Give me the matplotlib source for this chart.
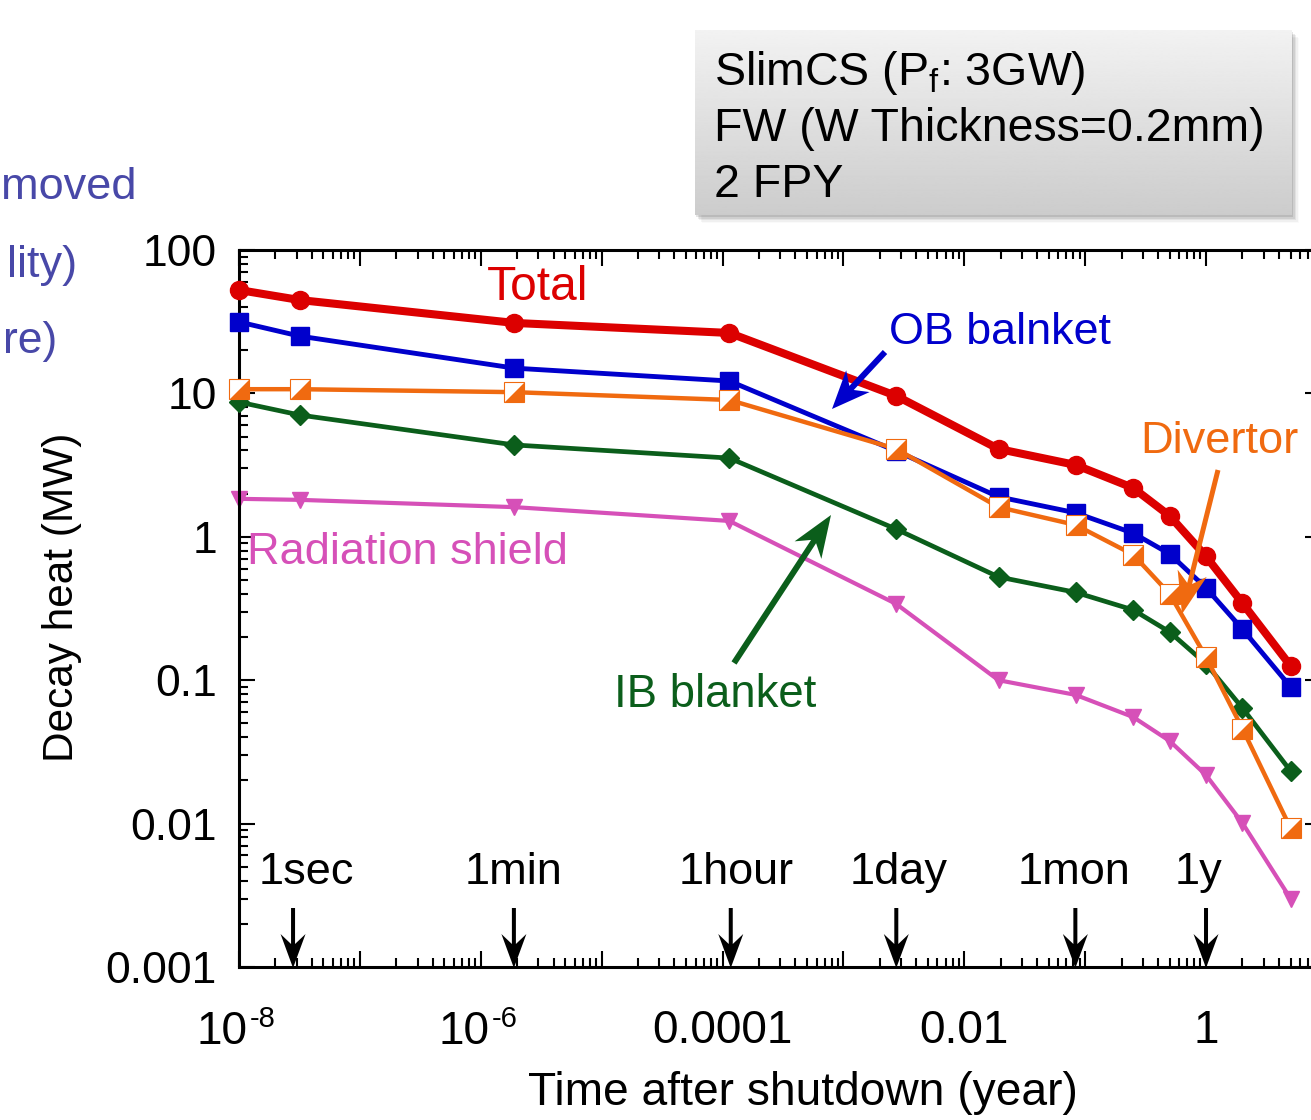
import numpy as np
import matplotlib
matplotlib.use("Agg")
import matplotlib.pyplot as plt
from matplotlib.patches import Polygon, Rectangle
from matplotlib.path import Path
from matplotlib.ticker import FixedLocator, LogLocator, NullFormatter, FuncFormatter

plt.rcParams['font.family'] = ['Liberation Sans', 'DejaVu Sans']
plt.rcParams['mathtext.fontset'] = 'custom'
plt.rcParams['mathtext.rm'] = 'Liberation Sans'
plt.rcParams['mathtext.it'] = 'Liberation Sans'

# ---------------- data ----------------
time_yr = [1e-8, 3.17e-8, 1.9e-6, 1.14e-4, 2.74e-3, 1.92e-2, 8.33e-2, 0.25, 0.5, 1.0, 2.0, 5.0]
total = [52.6, 44.8, 31.0, 26.4, 9.6, 4.1, 3.17, 2.19, 1.40, 0.73, 0.345, 0.126]
ob_blanket = [31.5, 25.1, 15.0, 12.2, 3.96, 1.90, 1.47, 1.06, 0.76, 0.44, 0.227, 0.090]
divertor = [10.7, 10.7, 10.2, 9.0, 4.1, 1.61, 1.21, 0.75, 0.40, 0.145, 0.046, 0.0093]
ib_blanket = [8.7, 7.07, 4.37, 3.54, 1.13, 0.525, 0.41, 0.309, 0.217, 0.130, 0.064, 0.0233]
rad_shield = [1.84, 1.81, 1.61, 1.29, 0.34, 0.100, 0.079, 0.0553, 0.0377, 0.0218, 0.0101, 0.0030]

mark_labels = ['1sec', '1min', '1hour', '1day', '1mon', '1y']
mark_times = [2.8e-8, 1.88e-6, 1.17e-4, 2.74e-3, 8.3e-2, 1.0]
mark_label_x = [306, 513, 736, 899, 1074, 1198]   # label centres (px)

y_ticks = [1e-3, 1e-2, 1e-1, 1, 10, 100]
y_ticklabels = ['0.001', '0.01', '0.1', '1', '10', '100']
x_label_map = {-4: '0.0001', -2: '0.01', 0: '1'}
x_pow_labels = [(-8, '-8'), (-6, '-6')]

# ---------------- colours ----------------
RED = '#dc0000'
BLUE = '#0000cc'
ORANGE = '#f06a10'
GREEN = '#0b5e1b'
PINK = '#d650b8'
PURPLE = '#4848a8'

W, H = 1311, 1120
fig = plt.figure(figsize=(W / 100, H / 100), dpi=100)


def fx(x):
    return x / W


def fy(y):
    return 1 - y / H


ax_l, ax_r, ax_t, ax_b = 239, 1321, 250, 967
ax = fig.add_axes([fx(ax_l), fy(ax_b), (ax_r - ax_l) / W, (ax_b - ax_t) / H])
ax.set_xscale('log')
ax.set_yscale('log')
ax.set_xlim(1e-8, 10 ** ((ax_r - 1206) / 120.9))
ax.set_ylim(1e-3, 100)

# series
ax.plot(time_yr, rad_shield, color=PINK, lw=3, marker='v', ms=12, mec=PINK, mfc=PINK, zorder=2, clip_on=False)
ax.plot(time_yr, total, color=RED, lw=5.8, marker='o', ms=13, mec=RED, mfc=RED, zorder=3, clip_on=False)
ax.plot(time_yr, ob_blanket, color=BLUE, lw=3.5, marker='s', ms=12.5, mec=BLUE, mfc=BLUE, zorder=4, clip_on=False)
ax.plot(time_yr, ib_blanket, color=GREEN, lw=3.4, marker='D', ms=10, mec=GREEN, mfc=GREEN, zorder=5, clip_on=False)
ax.plot(time_yr, divertor, color=ORANGE, lw=3.2, marker='s', ms=14, mec=ORANGE, mfc='white', mew=0.8,
        zorder=6, clip_on=False)
tri = Path([(1, 1), (1, -1), (-1, -1), (1, 1)], [Path.MOVETO, Path.LINETO, Path.LINETO, Path.CLOSEPOLY])
ax.plot(time_yr, divertor, ls='none', marker=tri, ms=14, mfc=ORANGE, mec='none', zorder=7, clip_on=False)

# ticks
ax.xaxis.set_major_locator(FixedLocator([10.0 ** k for k in range(-8, 1)]))
ax.xaxis.set_major_formatter(FuncFormatter(lambda v, p: x_label_map.get(int(round(np.log10(v))), '')))
ax.xaxis.set_minor_locator(LogLocator(base=10, subs=np.arange(2, 10), numticks=50))
ax.xaxis.set_minor_formatter(NullFormatter())
ax.yaxis.set_major_locator(FixedLocator(y_ticks))
ax.set_yticklabels(y_ticklabels)
ax.yaxis.set_minor_locator(LogLocator(base=10, subs=np.arange(2, 10), numticks=50))
ax.yaxis.set_minor_formatter(NullFormatter())

ax.tick_params(which='both', direction='in', top=True, right=True, width=1.5, colors='black')
ax.tick_params(which='major', length=11.5)
ax.tick_params(which='minor', length=6.5)
ax.tick_params(axis='x', which='major', labelsize=33, pad=30)
ax.tick_params(axis='y', which='major', labelsize=32, pad=16)
for s in ax.spines.values():
    s.set_linewidth(2.2)

# axis labels
fig.text(fx(803), fy(1093), 'Time after shutdown (year)', fontsize=33.2, ha='center', va='center')
fig.text(fx(62), fy(597), 'Decay heat (MW)', fontsize=30.5, ha='center', va='center', rotation=90)

fig.canvas.draw()

# power-of-ten tick labels with a hyphen exponent
for k, sup in x_pow_labels:
    xp = ax.transData.transform((10.0 ** k, 1))[0]
    fig.text(fx(xp + 9), fy(1044), '10', fontsize=33, ha='right', va='baseline')
    fig.text(fx(xp + 11), fy(1027), sup, fontsize=21, ha='left', va='baseline')


# ---------------- arrows ----------------
def arrow_px(x0, y0, x1, y1, color, sw, hl, hw, notch=0.3, z=10):
    p0 = np.array([x0, y0], float)
    p1 = np.array([x1, y1], float)
    d = p1 - p0
    L = np.hypot(*d)
    u = d / L
    n = np.array([-u[1], u[0]])
    base = p1 - u * hl
    npt = p1 - u * hl * (1 - notch)
    wl = base + n * hw / 2
    wr = base - n * hw / 2
    t = sw / hw
    pl = npt + t * (wl - npt)
    pr = npt + t * (wr - npt)
    pts = [p0 + n * sw / 2, pl, wl, p1, wr, pr, p0 - n * sw / 2]
    pts = [(fx(p[0]), fy(p[1])) for p in pts]
    fig.patches.append(Polygon(pts, closed=True, transform=fig.transFigure, facecolor=color,
                               edgecolor='none', zorder=z))


for t in mark_times:
    xp = ax.transData.transform((t, 1))[0]
    arrow_px(xp, 908, xp, 968, 'black', 4, 34, 25, notch=0.35)

arrow_px(885, 352, 832, 409, BLUE, 6, 38, 32, notch=0.3)
arrow_px(1218, 470, 1182, 614, ORANGE, 5, 42, 30, notch=0.3)
arrow_px(734, 663, 831, 515, GREEN, 6, 42, 32, notch=0.3)

# ---------------- annotations ----------------
fig.text(fx(538), fy(288), 'Total', color=RED, fontsize=34.5, ha='center', va='center')
fig.text(fx(1000), fy(332), 'OB balnket', color=BLUE, fontsize=32.3, ha='center', va='center')
fig.text(fx(1219), fy(442), 'Divertor', color=ORANGE, fontsize=32.6, ha='center', va='center')
fig.text(fx(715), fy(695), 'IB blanket', color=GREEN, fontsize=32.8, ha='center', va='center')
fig.text(fx(247), fy(553), 'Radiation shield', color=PINK, fontsize=32.5, ha='left', va='center')

for lab, xp in zip(mark_labels, mark_label_x):
    fig.text(fx(xp), fy(884), lab, fontsize=32.5, ha='center', va='baseline')

# text fragments at the left edge
fig.text(fx(137), fy(199), 'moved', color=PURPLE, fontsize=32.5, ha='right', va='baseline')
fig.text(fx(77), fy(277), 'lity)', color=PURPLE, fontsize=32.5, ha='right', va='baseline')
fig.text(fx(57), fy(353), 're)', color=PURPLE, fontsize=32, ha='right', va='baseline')

# ---------------- info box ----------------
bx0, by0, bx1, by1 = 695, 30, 1292, 215
for i, a in enumerate([0.10, 0.08, 0.06, 0.04, 0.02]):
    off = 2 + i * 1.5
    fig.patches.append(Rectangle((fx(bx0 + off - 1), fy(by1 + off)), (bx1 - bx0) / W, (by1 - by0) / H,
                                 transform=fig.transFigure, facecolor='black', alpha=a,
                                 edgecolor='none', zorder=1.5))
bax = fig.add_axes([fx(bx0), fy(by1), (bx1 - bx0) / W, (by1 - by0) / H], zorder=2)
grad = np.linspace(0.95, 0.80, 256).reshape(-1, 1)
bax.imshow(grad, cmap='gray', vmin=0, vmax=1, aspect='auto', extent=[0, 1, 0, 1])
bax.axis('off')
info = [r'SlimCS (P$_{\mathrm{f}}$: 3GW)', 'FW (W Thickness=0.2mm)', '2 FPY']
for yy, s in zip([85, 141, 197], info):
    fig.text(fx(714), fy(yy), s, fontsize=33.5, ha='left', va='baseline', zorder=5)

fig.savefig('out.png', dpi=100)
